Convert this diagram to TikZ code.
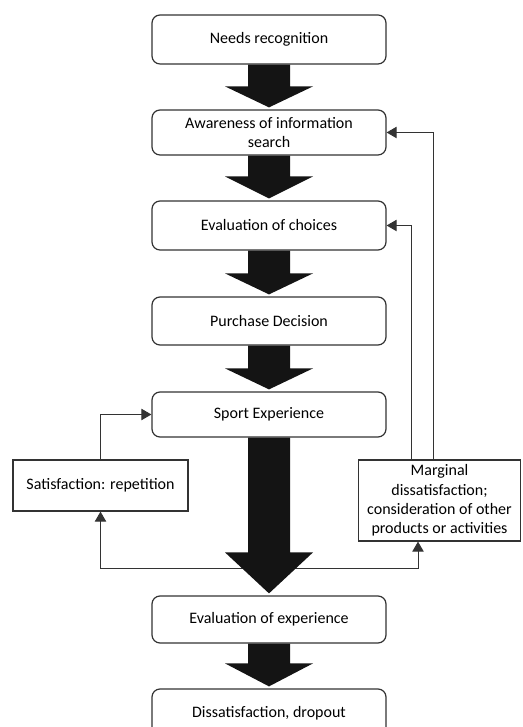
\documentclass[tikz,border=0pt]{standalone}
\usepackage{fontspec}
\setmainfont{Carlito}
\usepackage{tikz}
\usetikzlibrary{arrows.meta,positioning,calc}
\tikzset{
  stage-box/.style={draw=black!80, fill=white, rounded corners=6pt, line width=0.9pt,
    align=center, minimum width=175.5pt, inner sep=2pt,
    font=\fontsize{12}{13.7}\selectfont},
  outcome-box/.style={draw=black!80, fill=white, line width=0.9pt,
    align=center, inner sep=2pt, font=\fontsize{12}{14.6}\selectfont},
  feedback-line/.style={draw=black!80, line width=0.75pt,
    -{Triangle[length=7.5pt, width=8.5pt]}},
  block-fill/.style={fill=black!92}
}
% block arrow: from box, to box, head length
\newcommand{\blockarrow}[3]{%
  \fill[block-fill] ($(#1.south)+(-21,0)$) -- ($(#1.south)+(21,0)$)
    -- ($(#2.north)+(21,#3+2)$) -- ($(#2.north)+(44,#3+2)$)
    -- ($(#2.north)+(0,2)$)
    -- ($(#2.north)+(-44,#3+2)$) -- ($(#2.north)+(-21,#3+2)$) -- cycle;}

\begin{document}
\begin{tikzpicture}[x=0.75pt, y=0.75pt]
  \useasboundingbox (0,0) rectangle (522,727);
  \clip (0,0) rectangle (522,727);

  % Main stages
  \node[stage-box, minimum height=36.75pt] (needs) at (269,687.5) {Needs recognition};
  \node[stage-box, minimum height=33.75pt] (aware) at (269,594.5) {Awareness of information\\search};
  \node[stage-box, minimum height=36.75pt] (choices) at (269,501.5) {Evaluation of choices};
  \node[stage-box, minimum height=36pt] (purchase) at (269,406) {Purchase Decision};
  \node[stage-box, minimum height=33.75pt] (sport) at (269,312.5) {Sport Experience};
  \node[stage-box, minimum height=35.25pt] (evalexp) at (269,107.5) {Evaluation of experience};
  \node[stage-box, minimum height=36pt] (dropout) at (269,14) {Dissatisfaction, dropout};

  % Outcomes of the experience
  \node[outcome-box, minimum width=131.25pt, minimum height=38.25pt] (satis) at (100.5,241.5) {Satisfaction: repetition};
  \node[outcome-box, minimum width=121.5pt, minimum height=60.75pt] (marginal) at (439.5,226.5)
    {Marginal\\dissatisfaction;\\consideration of other\\products or activities};

  % Feedback connectors
  \coordinate (split-l) at (100.5,158);
  \coordinate (split-r) at (418,158);
  \draw[feedback-line] (satis.north) |- (sport.west);
  \draw[feedback-line] (split-l) -- (satis.south);
  \draw[feedback-line] (split-l) -- (split-r) -- (split-r |- marginal.south);
  \draw[feedback-line] ($(marginal.north)+(-28.5,0)$) |- (choices.east);
  \draw[feedback-line] ($(marginal.north)+(-6.5,0)$) |- (aware.east);

  % Block arrows between stages
  \blockarrow{needs}{aware}{21}
  \blockarrow{aware}{choices}{22}
  \blockarrow{choices}{purchase}{21}
  \blockarrow{purchase}{sport}{21}
  \blockarrow{sport}{evalexp}{41}
  \blockarrow{evalexp}{dropout}{23}
\end{tikzpicture}
\end{document}
